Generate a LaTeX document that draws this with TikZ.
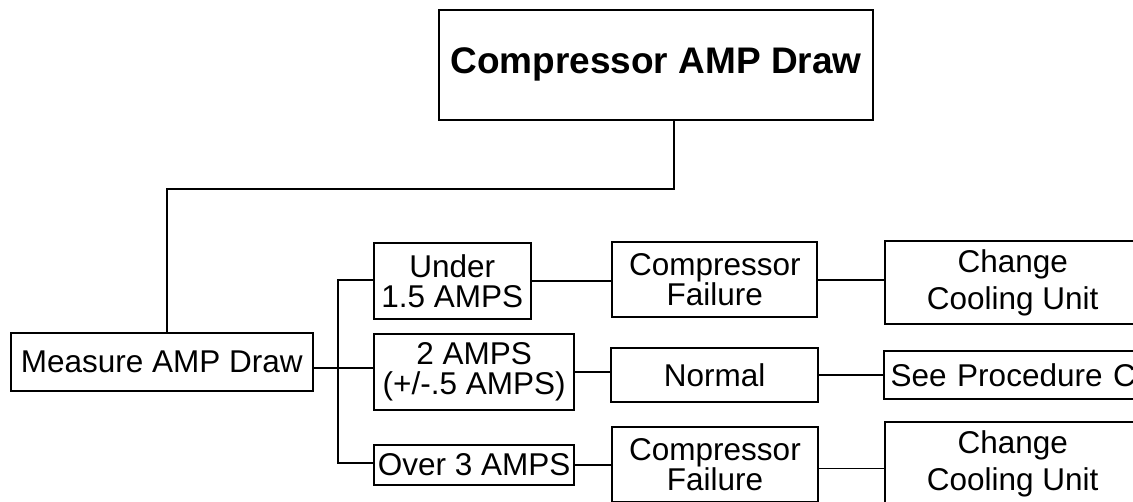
\documentclass[tikz,border=0pt]{standalone}
\usepackage{fontspec}
\setmainfont{Liberation Sans}
\begin{document}
\begin{tikzpicture}[x=1pt,y=-1pt,
  box/.style={draw,line width=2pt,inner sep=0pt,align=center,
    font=\fontsize{31.5}{30}\selectfont},
  bigbox/.style={box,font=\fontsize{31.5}{37}\selectfont},
  titlebox/.style={box,font=\fontsize{37}{40}\selectfont\bfseries},
  conn/.style={line width=1.7pt}]
\useasboundingbox (0,0) rectangle (1133,501);
\clip (0,0) rectangle (1133,501);
\fill[white] (0,0) rectangle (1133,501);

% nodes
\node[titlebox,minimum width=434pt,minimum height=109.5pt] (title) at (656,64.75) {Compressor AMP Draw};
\node[box,minimum width=302.3pt,minimum height=58pt] (measure) at (161.85,362) {Measure AMP Draw};

\node[box,minimum width=156.7pt,minimum height=76pt] (under) at (452.35,281) {Under\\1.5 AMPS};
\node[box,minimum width=200.3pt,minimum height=75.7pt] (two) at (474.15,372.15) {2 AMPS\\(+/-.5 AMPS)};
\node[box,minimum width=200.3pt,minimum height=40pt] (over) at (474.15,465) {Over 3 AMPS};

\node[box,minimum width=205pt,minimum height=75pt] (cf1) at (714.8,279.8) {Compressor\\Failure};
\node[box,minimum width=207.3pt,minimum height=53.4pt] (normal) at (714.65,375) {Normal};
\node[box,minimum width=206pt,minimum height=75.3pt] (cf2) at (715,464.35) {Compressor\\Failure};

\node[bigbox,minimum width=256pt,minimum height=83.6pt] (change1) at (1012.7,282.5) {Change\\Cooling Unit};
\node[box,anchor=west,align=left,text width=266pt,inner xsep=6.7pt,minimum height=48.3pt] (see) at (883,374.85) {See Procedure C};
\node[bigbox,minimum width=256pt,minimum height=84.6pt] (change2) at (1012.7,464) {Change\\Cooling Unit};

% junctions
\coordinate (j1) at (674,189);
\coordinate (j2) at (167,189);
\coordinate (b1) at (338,280);
\coordinate (b2) at (338,368);
\coordinate (b3) at (338,463);

% connectors
\draw[conn] (title.south -| j1) -- (j1) -- (j2) -- (j2 |- measure.north);
\draw[conn] (measure.east |- b2) -- (b2) -- (b2 -| two.west);
\draw[conn] (b1 -| under.west) -- (b1) -- (b3) -- (b3 -| over.west);
\draw[conn] (under.east) -- (under.east -| cf1.west);
\draw[conn] (two.east) -- (two.east -| normal.west);
\draw[conn] (over.east) -- (over.east -| cf2.west);
\draw[conn] (cf1.east) -- (cf1.east -| change1.west);
\draw[conn] (normal.east) -- (normal.east -| see.west);
\draw[conn] ([yshift=-4pt]cf2.east) -- ([yshift=-4pt]cf2.east -| change2.west);
\end{tikzpicture}
\end{document}
